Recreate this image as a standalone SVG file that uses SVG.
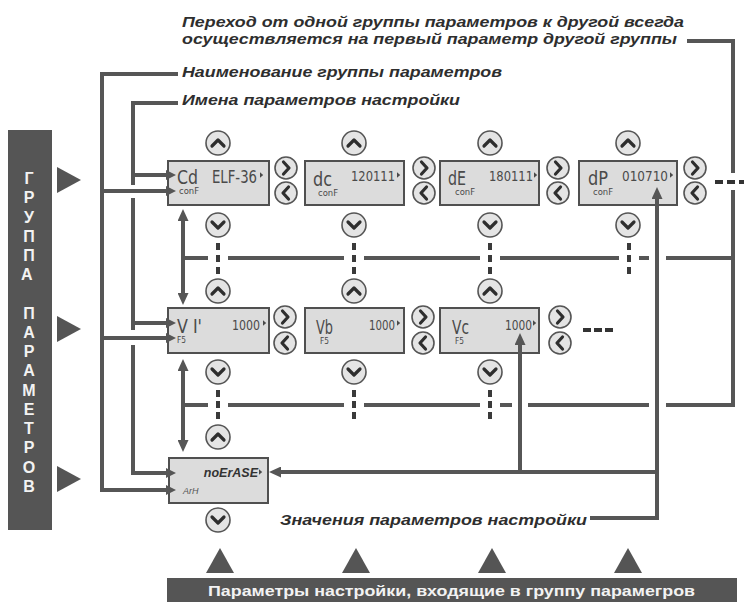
<svg xmlns="http://www.w3.org/2000/svg" xmlns:xlink="http://www.w3.org/1999/xlink" width="744" height="602" viewBox="0 0 744 602">
<style>
.ln{fill:none;stroke:#565656;stroke-width:4}
.dsh{fill:none;stroke:#3a3a3a;stroke-width:4;stroke-dasharray:7 5}
.box{fill:#dcdcdc;stroke:#505050;stroke-width:2}
.btn{fill:#e4e4e4;stroke:#555;stroke-width:1.6}
.chev{fill:none;stroke:#2e2e2e;stroke-width:3.2;stroke-linecap:round;stroke-linejoin:round}
.lbl{font-family:"Liberation Sans",Arial,sans-serif;font-weight:bold;font-style:italic;font-size:15.5px;fill:#2e2e2e}
.bar{fill:#555}
.barT{font-family:"Liberation Sans",Arial,sans-serif;font-weight:bold;font-size:16px;fill:#f2f2f2}
.seg{font-family:"DejaVu Sans ExtraLight","DejaVu Sans Condensed","DejaVu Sans",sans-serif;font-weight:200;fill:#4a4a4a}
.nm{font-size:19px}
.val{font-size:14px}
.sm{font-size:8px}
.tri{fill:#555}
</style>
<defs>
<marker id="ah" viewBox="0 0 10 10" refX="6" refY="5" markerWidth="10" markerHeight="10" markerUnits="userSpaceOnUse" orient="auto-start-reverse"><path d="M0,0 L10,5 L0,10 z" fill="#565656"/></marker>
<marker id="ahb" viewBox="0 0 12 11" refX="7" refY="5.5" markerWidth="12" markerHeight="11" markerUnits="userSpaceOnUse" orient="auto-start-reverse"><path d="M0,0 L12,5.5 L0,11 z" fill="#565656"/></marker>
<g id="bu"><circle r="12" class="btn"/><path d="M-6,3 L0,-3 L6,3" class="chev"/></g>
<g id="bd"><circle r="12" class="btn"/><path d="M-6,-3 L0,3 L6,-3" class="chev"/></g>
<g id="br"><circle r="11" class="btn"/><path d="M-2.5,-6 L3,0 L-2.5,6" class="chev"/></g>
<g id="bl"><circle r="11" class="btn"/><path d="M2.5,-6 L-3,0 L2.5,6" class="chev"/></g>
<path id="cur" d="M0,-2.8 L3.2,0 L0,2.8 z" fill="#4a4a4a"/>
</defs>

<!-- labels -->
<g id="labels">
<text class="lbl" x="182" y="27" textLength="502" lengthAdjust="spacingAndGlyphs">Переход от одной группы параметров к другой всегда</text>
<text class="lbl" x="182" y="44" textLength="495" lengthAdjust="spacingAndGlyphs">осуществляется на первый параметр другой группы</text>
<text class="lbl" x="182" y="77" textLength="320" lengthAdjust="spacingAndGlyphs">Наименование группы параметров</text>
<text class="lbl" x="182" y="105" textLength="278" lengthAdjust="spacingAndGlyphs">Имена параметров настройки</text>
<text class="lbl" x="280" y="525" textLength="307" lengthAdjust="spacingAndGlyphs">Значения параметров настройки</text>
</g>

<!-- left bar -->
<g id="group-bar">
<rect class="bar" x="8" y="130" width="44" height="400"/>
<text class="barT" text-anchor="middle">
<tspan x="29" y="184">Г</tspan><tspan x="29" y="203.2">Р</tspan><tspan x="29" y="222.5">У</tspan><tspan x="29" y="241.7">П</tspan><tspan x="29" y="260.9">П</tspan><tspan x="29" y="280.2">А</tspan>
<tspan x="29" y="318.6">П</tspan><tspan x="29" y="337.9">А</tspan><tspan x="29" y="357.1">Р</tspan><tspan x="29" y="376.3">А</tspan><tspan x="29" y="395.6">М</tspan><tspan x="29" y="414.8">Е</tspan><tspan x="29" y="434">Т</tspan><tspan x="29" y="453.3">Р</tspan><tspan x="29" y="472.5">О</tspan><tspan x="29" y="491.7">В</tspan>
</text>
<polygon class="tri" points="57,167 81,180 57,193"/>
<polygon class="tri" points="57,316 81,329 57,342"/>
<polygon class="tri" points="57,466 81,479 57,492"/>
</g>

<!-- bottom bar -->
<g id="params-bar">
<rect class="bar" x="167" y="578" width="570" height="24"/>
<text class="barT" x="451.5" y="596" text-anchor="middle" textLength="487" lengthAdjust="spacingAndGlyphs" style="font-size:15px">Параметры настройки, входящие в группу парамегров</text>
<polygon class="tri" points="206,573 220,548 234,573"/>
<polygon class="tri" points="342,573 356,548 370,573"/>
<polygon class="tri" points="478,573 492,548 506,573"/>
<polygon class="tri" points="614,573 628,548 642,573"/>
</g>

<!-- row 1 -->
<g id="node-Cd">
<rect class="box" x="168" y="161" width="101" height="44"/>
<text class="seg nm" x="177" y="184" textLength="21" lengthAdjust="spacingAndGlyphs">Cd</text>
<text class="seg val" x="212" y="183" textLength="45" lengthAdjust="spacingAndGlyphs" style="font-size:17px">ELF-36</text>
<use xlink:href="#cur" x="260" y="175"/>
<text class="seg sm" x="179" y="194" textLength="20" lengthAdjust="spacingAndGlyphs">conF</text>
</g>
<g id="node-dc">
<rect class="box" x="305" y="161" width="99" height="44"/>
<text class="seg nm" x="313" y="186" textLength="19" lengthAdjust="spacingAndGlyphs">dc</text>
<text class="seg val" x="351" y="181" textLength="44" lengthAdjust="spacingAndGlyphs">120111</text>
<use xlink:href="#cur" x="397" y="175"/>
<text class="seg sm" x="318" y="196" textLength="20" lengthAdjust="spacingAndGlyphs">conF</text>
</g>
<g id="node-dE">
<rect class="box" x="440" y="161" width="99" height="44"/>
<text class="seg nm" x="448" y="185" textLength="18" lengthAdjust="spacingAndGlyphs">dE</text>
<text class="seg val" x="489" y="181" textLength="44" lengthAdjust="spacingAndGlyphs">180111</text>
<use xlink:href="#cur" x="534" y="175"/>
<text class="seg sm" x="455" y="195" textLength="20" lengthAdjust="spacingAndGlyphs">conF</text>
</g>
<g id="node-dP">
<rect class="box" x="579" y="161" width="98" height="44"/>
<text class="seg nm" x="588" y="185" textLength="20" lengthAdjust="spacingAndGlyphs">dP</text>
<text class="seg val" x="622" y="181" textLength="46" lengthAdjust="spacingAndGlyphs">010710</text>
<use xlink:href="#cur" x="670" y="175"/>
<text class="seg sm" x="593" y="195" textLength="20" lengthAdjust="spacingAndGlyphs">conF</text>
</g>

<!-- row 2 -->
<g id="node-Va">
<rect class="box" x="168" y="308" width="101" height="45"/>
<text class="seg nm" x="177" y="333" textLength="25" lengthAdjust="spacingAndGlyphs">V I'</text>
<text class="seg val" x="232" y="330" textLength="28" lengthAdjust="spacingAndGlyphs">1000</text>
<use xlink:href="#cur" x="263" y="323"/>
<text class="seg sm" x="177" y="343" textLength="9" lengthAdjust="spacingAndGlyphs">F5</text>
</g>
<g id="node-Vb">
<rect class="box" x="305" y="308" width="99" height="45"/>
<text class="seg nm" x="316" y="334" textLength="17" lengthAdjust="spacingAndGlyphs">Vb</text>
<text class="seg val" x="369" y="330" textLength="26" lengthAdjust="spacingAndGlyphs">1000</text>
<use xlink:href="#cur" x="397" y="323"/>
<text class="seg sm" x="320" y="344" textLength="9" lengthAdjust="spacingAndGlyphs">F5</text>
</g>
<g id="node-Vc">
<rect class="box" x="440" y="308" width="99" height="45"/>
<text class="seg nm" x="452" y="334" textLength="17" lengthAdjust="spacingAndGlyphs">Vc</text>
<text class="seg val" x="505" y="330" textLength="27" lengthAdjust="spacingAndGlyphs">1000</text>
<use xlink:href="#cur" x="533" y="323"/>
<text class="seg sm" x="455" y="344" textLength="9" lengthAdjust="spacingAndGlyphs">F5</text>
</g>

<!-- row 3 -->
<g id="node-noErASE">
<rect class="box" x="169" y="458" width="99" height="45"/>
<text x="258" y="477" text-anchor="end" style="font-family:'Liberation Sans',Arial,sans-serif;font-weight:bold;font-style:italic;font-size:12.5px;fill:#333">noErASE</text>
<use xlink:href="#cur" x="259" y="472"/>
<text x="183" y="494" style="font-family:'Liberation Sans',Arial,sans-serif;font-style:italic;font-size:9px;fill:#555">ArH</text>
</g>

<!-- connectors -->
<g id="connectors">
<path class="ln" d="M178,74 H102 V490 H172" marker-end="url(#ah)"/>
<path class="ln" d="M102,191 H172" marker-end="url(#ah)"/>
<path class="ln" d="M102,338 H172" marker-end="url(#ah)"/>
<path class="ln" d="M178,103 H133 V185 M133,198 V330 M133,345 V473 H172" marker-end="url(#ah)"/>
<path class="ln" d="M133,175 H172" marker-end="url(#ah)"/>
<path class="ln" d="M133,323 H172" marker-end="url(#ah)"/>
<path class="ln" d="M687,41 H733 V173 M733,190 V405"/>
<path class="ln" d="M183,258 H208 M228,258 H344 M364,258 H480 M500,258 H619 M639,258 H649 M666,258 H735"/>
<path class="ln" d="M183,405 H208 M228,405 H344 M364,405 H480 M500,405 H512 M528,405 H649 M666,405 H735"/>
<path class="ln" d="M183,214 V300" marker-start="url(#ahb)" marker-end="url(#ahb)"/>
<path class="ln" d="M183,364 V447" marker-start="url(#ahb)" marker-end="url(#ahb)"/>
<path class="ln" d="M590,518 H657 V192" marker-end="url(#ahb)"/>
<path class="ln" d="M657,472 H274" marker-end="url(#ahb)"/>
<path class="ln" d="M520,472 V338" marker-end="url(#ahb)"/>
<path class="dsh" d="M218,243 V274 M354,243 V274 M490,243 V274 M629,243 V274"/>
<path class="dsh" d="M218,390 V419 M354,390 V419 M490,390 V419" style="stroke-dasharray:7 4"/>
<path class="ln" d="M715,182 H744" style="stroke:#333;stroke-dasharray:8 4"/>
<path class="ln" d="M583,330 H614" style="stroke:#333;stroke-dasharray:8 3"/>
</g>

<!-- buttons -->
<g id="buttons">
<use xlink:href="#bu" x="218" y="143"/><use xlink:href="#bu" x="354" y="143"/><use xlink:href="#bu" x="490" y="143"/><use xlink:href="#bu" x="628" y="143"/>
<use xlink:href="#bd" x="218" y="225"/><use xlink:href="#bd" x="354" y="225"/><use xlink:href="#bd" x="490" y="225"/><use xlink:href="#bd" x="628" y="225"/>
<use xlink:href="#br" x="286" y="168"/><use xlink:href="#br" x="424" y="168"/><use xlink:href="#br" x="558" y="168"/><use xlink:href="#br" x="695" y="168"/>
<use xlink:href="#bl" x="286" y="193"/><use xlink:href="#bl" x="424" y="193"/><use xlink:href="#bl" x="558" y="193"/><use xlink:href="#bl" x="695" y="193"/>
<use xlink:href="#bu" x="218" y="291"/><use xlink:href="#bu" x="354" y="291"/><use xlink:href="#bu" x="490" y="291"/>
<use xlink:href="#bd" x="218" y="372"/><use xlink:href="#bd" x="354" y="372"/><use xlink:href="#bd" x="490" y="372"/>
<use xlink:href="#br" x="285" y="317"/><use xlink:href="#br" x="423" y="317"/><use xlink:href="#br" x="560" y="317"/>
<use xlink:href="#bl" x="285" y="343"/><use xlink:href="#bl" x="423" y="343"/><use xlink:href="#bl" x="560" y="343"/>
<use xlink:href="#bu" x="218" y="437"/>
<use xlink:href="#bd" x="218" y="520"/>
</g>
</svg>
